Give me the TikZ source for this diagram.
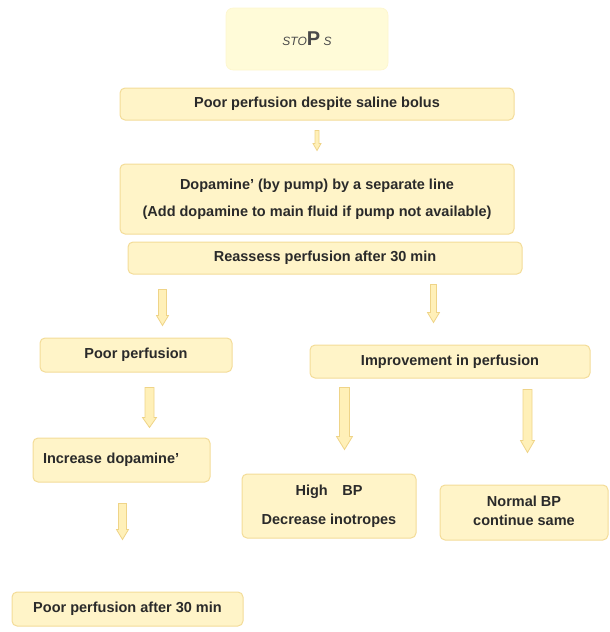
\documentclass[tikz,border=0pt]{standalone}
\usepackage{fontspec}
\setmainfont{Liberation Sans}
\usetikzlibrary{calc}
\definecolor{boxfill}{HTML}{FFF4C8}
\definecolor{boxline}{HTML}{F3DC98}
\definecolor{titlefill}{HTML}{FFFBD8}
\definecolor{ink}{HTML}{2A2A2A}
\definecolor{arrfill}{HTML}{FFF0B8}
\definecolor{arrline}{HTML}{EFD488}
\tikzset{
  flowbox/.style={draw=boxline, line width=1pt, fill=boxfill, rounded corners=5pt,
    text=ink, font=\fontsize{14.5}{17}\selectfont\bfseries, align=center, inner sep=2pt},
  titlebox/.style={draw=titlefill!85!boxline, line width=0.6pt, fill=titlefill, rounded corners=7pt,
    text=ink!85, align=center},
  blockarrow/.style={draw=arrline, line width=0.8pt, fill=arrfill, line join=miter}
}
% hollow down-pointing block arrow: #1 start, #2 tip, #3 half shaft, #4 half head, #5 head length
\newcommand\downblock[5]{%
  \draw[blockarrow] ($(#1)+(-#3,0)$) -- ($(#2)+(-#3,-#5)$) -- ($(#2)+(-#4,-#5)$) -- (#2)
    -- ($(#2)+(#4,-#5)$) -- ($(#2)+(#3,-#5)$) -- ($(#1)+(#3,0)$) -- cycle;}
\begin{document}
\begin{tikzpicture}[x=1pt, y=-1pt]
\useasboundingbox (0,0) rectangle (610,632);

\node[titlebox, minimum width=162pt, minimum height=62pt] (stops) at (307,39)
  {\fontsize{12}{14}\selectfont\itshape STO\upshape\bfseries\fontsize{20}{22}\selectfont P\,\mdseries\itshape\fontsize{12}{14}\selectfont S};

\node[flowbox, minimum width=394pt, minimum height=32pt] (bolus) at (317,104)
  {Poor perfusion despite saline bolus};
\node[flowbox, minimum width=394pt, minimum height=70pt] (dopa) at (317,199)
  {Dopamine' (by pump) by a separate line\\[10pt](Add dopamine to main fluid if pump not available)};
\node[flowbox, minimum width=394pt, minimum height=32pt] (reassess) at (325,258)
  {Reassess perfusion after 30 min};
\node[flowbox, minimum width=192pt, minimum height=34pt] (poor) at (136,355)
  {Poor perfusion};
\node[flowbox, minimum width=280pt, minimum height=33pt] (improve) at (450,361.5)
  {Improvement in perfusion};
\node[flowbox, minimum width=177pt, minimum height=44pt, text width=157pt, align=left] (incr) at (121.5,460)
  {Increase dopamine'\\[6pt]};
\node[flowbox, minimum width=174pt, minimum height=64pt] (high) at (329,506)
  {High\quad BP\\[12pt]Decrease inotropes};
\node[flowbox, minimum width=168pt, minimum height=55pt] (normal) at (524,512.5)
  {\raisebox{8pt}{\begin{tabular}{@{}c@{}}Normal BP\\[2pt]continue same\end{tabular}}};
\node[flowbox, minimum width=231pt, minimum height=34pt] (final) at (127.5,609)
  {Poor perfusion after 30 min};

% connector end points: each tip sits straight below its start
\coordinate (a1s) at ($(bolus.south)+(0,10)$);
\coordinate (a1e) at ($(a1s |- dopa.north)+(0,-13)$);
\coordinate (a2s) at ($(reassess.south west)+(35,15)$);
\coordinate (a2e) at ($(a2s |- poor.north)+(0,-12)$);
\coordinate (a3s) at ($(reassess.south east)+(-89,10)$);
\coordinate (a3e) at ($(a3s |- improve.north)+(0,-22)$);
\coordinate (a4s) at ($(poor.south west)+(110,15)$);
\coordinate (a4e) at ($(a4s |- incr.north)+(0,-10)$);
\coordinate (a5s) at ($(incr.south west)+(90,21)$);
\coordinate (a5e) at ($(a5s |- final.north)+(0,-52)$);
\coordinate (a6s) at ($(improve.south west)+(35,9)$);
\coordinate (a6e) at ($(a6s |- high.north)+(0,-24)$);
\coordinate (a7s) at ($(improve.south west)+(218,11)$);
\coordinate (a7e) at ($(a7s |- normal.north)+(0,-32)$);

\downblock{a1s}{a1e}{2}{4}{7}
\downblock{a2s}{a2e}{4}{6}{10}
\downblock{a3s}{a3e}{3}{6}{10}
\downblock{a4s}{a4e}{4.5}{7}{10}
\downblock{a5s}{a5e}{4}{6}{10}
\downblock{a6s}{a6e}{5}{8}{13}
\downblock{a7s}{a7e}{4.5}{7}{12}
\end{tikzpicture}
\end{document}
